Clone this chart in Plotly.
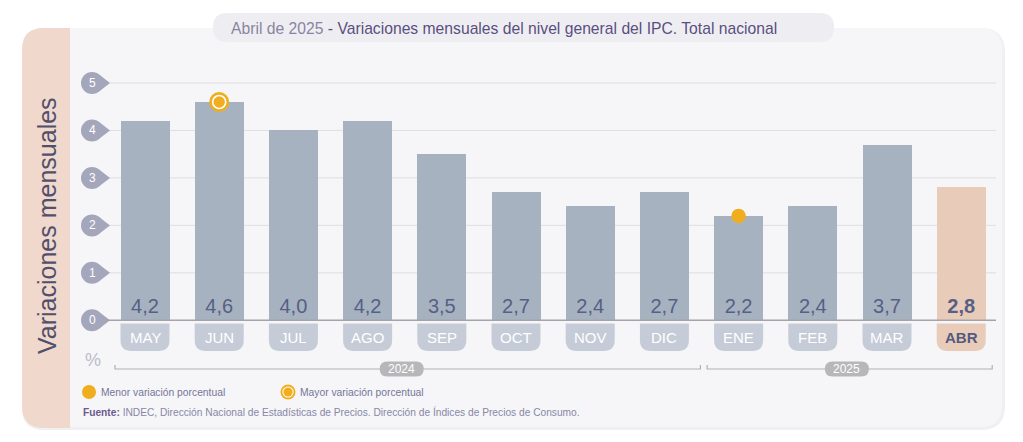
import plotly.graph_objects as go

# ---------------- data ----------------
months = ["MAY", "JUN", "JUL", "AGO", "SEP", "OCT", "NOV", "DIC", "ENE", "FEB", "MAR", "ABR"]
values = [4.2, 4.6, 4.0, 4.2, 3.5, 2.7, 2.4, 2.7, 2.2, 2.4, 3.7, 2.8]
years = ["2024", "2025"]
year_months = [8, 4]  # number of months in each year group
y_ticks = [0, 1, 2, 3, 4, 5]
max_month = "JUN"
min_month = "ENE"
current_month = "ABR"

title_a = "Abril de 2025"
title_b = " - Variaciones mensuales del nivel general del IPC. Total nacional"
y_title = "Variaciones mensuales"
legend_min = "Menor variación porcentual"
legend_max = "Mayor variación porcentual"
source_bold = "Fuente:"
source_text = " INDEC, Dirección Nacional de Estadísticas de Precios. Dirección de Índices de Precios de Consumo."

# ---------------- geometry (pixels) ----------------
W, H = 1023, 442
X0, DX = 145.0, 74.2        # pixel centre of first category, spacing
Y0, DY = 320.3, 47.46       # pixel of value 0, pixels per unit
FONT = "Liberation Sans"

BAR = "#a7b2c1"
BAR_CUR = "#e9cbb9"
PILL = "#c5cbd7"
ORANGE = "#f0ae1f"
TXT = "#566085"


def px(x):
    return x / W


def py(y):
    return 1 - y / H


def rrect(x0, y0, x1, y1, r_tl=0, r_tr=0, r_br=0, r_bl=0):
    """rounded rect path in paper coords from pixel coords"""
    p = []
    p.append(f"M{px(x0 + r_tl)},{py(y0)}")
    p.append(f"L{px(x1 - r_tr)},{py(y0)}")
    if r_tr:
        p.append(f"Q{px(x1)},{py(y0)} {px(x1)},{py(y0 + r_tr)}")
    p.append(f"L{px(x1)},{py(y1 - r_br)}")
    if r_br:
        p.append(f"Q{px(x1)},{py(y1)} {px(x1 - r_br)},{py(y1)}")
    p.append(f"L{px(x0 + r_bl)},{py(y1)}")
    if r_bl:
        p.append(f"Q{px(x0)},{py(y1)} {px(x0)},{py(y1 - r_bl)}")
    p.append(f"L{px(x0)},{py(y0 + r_tl)}")
    if r_tl:
        p.append(f"Q{px(x0)},{py(y0)} {px(x0 + r_tl)},{py(y0)}")
    p.append("Z")
    return " ".join(p)


def circle(cx, cy, r, color, layer="below"):
    return dict(type="circle", xref="paper", yref="paper",
                x0=px(cx - r), x1=px(cx + r), y0=py(cy + r), y1=py(cy - r),
                fillcolor=color, line=dict(width=0), layer=layer)


shapes = []
annotations = []

# outer panel shadow + panel
shapes.append(dict(type="path", xref="paper", yref="paper",
                   path=rrect(22, 28, 1005, 430, 22, 24, 24, 22),
                   fillcolor="#f0f0f3", line=dict(width=0), layer="below"))
shapes.append(dict(type="path", xref="paper", yref="paper",
                   path=rrect(70, 28, 1002, 427, 0, 22, 22, 0),
                   fillcolor="#f6f6f8", line=dict(width=0), layer="below"))
shapes.append(dict(type="path", xref="paper", yref="paper",
                   path=rrect(22, 28, 70, 428, 22, 0, 0, 22),
                   fillcolor="#f0d8cd", line=dict(width=0), layer="below"))

# title pill
shapes.append(dict(type="path", xref="paper", yref="paper",
                   path=rrect(213, 13, 834, 42, 14, 14, 14, 14),
                   fillcolor="#eeeef2", line=dict(width=0), layer="below"))
annotations.append(dict(xref="paper", yref="paper", x=px(229), y=py(28),
                        xanchor="left", yanchor="middle", showarrow=False,
                        text=f"<span style='color:#8b84a0'>{title_a}</span>"
                             f"<span style='color:#5b4f7f'>{title_b}</span>",
                        font=dict(family=FONT, size=15.7)))

# vertical axis title
annotations.append(dict(xref="paper", yref="paper", x=px(47), y=py(226),
                        xanchor="center", yanchor="middle", showarrow=False,
                        textangle=-90, text=y_title,
                        font=dict(family=FONT, size=25, color="#50506c")))

# gridlines and tick teardrops
for t in y_ticks:
    yy = Y0 - DY * t
    shapes.append(dict(type="line", xref="paper", yref="paper",
                       x0=px(106), x1=px(996), y0=py(yy), y1=py(yy),
                       line=dict(color="#a3a3a9" if t == 0 else "#dedee3",
                                 width=1.6 if t == 0 else 1),
                       layer="below" if t != 0 else "above"))
    cx, r = 92, 11
    shapes.append(circle(cx, yy, r, "#a4a6bb"))
    shapes.append(dict(type="path", xref="paper", yref="paper",
                       path=f"M{px(cx + 6.5)},{py(yy - 8.9)} L{px(cx + 18)},{py(yy)} "
                            f"L{px(cx + 6.5)},{py(yy + 8.9)} Z",
                       fillcolor="#a4a6bb", line=dict(width=0), layer="below"))
    annotations.append(dict(xref="paper", yref="paper", x=px(cx), y=py(yy),
                            xanchor="center", yanchor="middle", showarrow=False,
                            text=str(t), font=dict(family=FONT, size=12, color="white")))

# "%"
annotations.append(dict(xref="paper", yref="paper", x=px(93), y=py(360),
                        xanchor="center", yanchor="middle", showarrow=False,
                        text="%", font=dict(family=FONT, size=18, color="#bcbccd")))

# month pills
bw = 49
for i, m in enumerate(months):
    cx = X0 + DX * i
    cur = m == current_month
    shapes.append(dict(type="path", xref="paper", yref="paper",
                       path=rrect(cx - bw / 2, 323.5, cx + bw / 2, 351, 0, 0, 11, 11),
                       fillcolor=BAR_CUR if cur else PILL, line=dict(width=0), layer="below"))
    annotations.append(dict(xref="x", yref="paper", x=m, y=py(337.5),
                            xanchor="center", yanchor="middle", showarrow=False,
                            text=f"<b>{m}</b>" if cur else m,
                            font=dict(family=FONT, size=15,
                                      color="#525a80" if cur else "white")))

# year brackets
start = 0
for k, (yr, n) in enumerate(zip(years, year_months)):
    first_c = X0 + DX * start
    last_c = X0 + DX * (start + n - 1)
    xa = first_c - 30 if k == 0 else first_c - 31.5
    xb = last_c + 36 if k < len(years) - 1 else last_c + 31
    yb = 369
    shapes.append(dict(type="path", xref="paper", yref="paper",
                       path=f"M{px(xa)},{py(yb - 4)} L{px(xa)},{py(yb)} L{px(xb)},{py(yb)} L{px(xb)},{py(yb - 4)}",
                       line=dict(color="#b0b0b4", width=1.2), layer="below"))
    mid = X0 + DX * (start + (n - 1) / 2) - 3
    shapes.append(dict(type="path", xref="paper", yref="paper",
                       path=rrect(mid - 22, 361.5, mid + 22, 376.5, 7.5, 7.5, 7.5, 7.5),
                       fillcolor="#b7b7b9", line=dict(width=0), layer="below"))
    annotations.append(dict(xref="paper", yref="paper", x=px(mid), y=py(369),
                            xanchor="center", yanchor="middle", showarrow=False,
                            text=yr, font=dict(family=FONT, size=12, color="white")))
    start += n

# legend
shapes.append(circle(89, 392, 7, ORANGE, "above"))
annotations.append(dict(xref="paper", yref="paper", x=px(99), y=py(392.5),
                        xanchor="left", yanchor="middle", showarrow=False,
                        text=legend_min, font=dict(family=FONT, size=10.3, color="#75759a")))
shapes.append(circle(288, 392, 7.5, ORANGE, "above"))
shapes.append(circle(288, 392, 5.6, "white", "above"))
shapes.append(circle(288, 392, 4.6, ORANGE, "above"))
annotations.append(dict(xref="paper", yref="paper", x=px(298), y=py(392.5),
                        xanchor="left", yanchor="middle", showarrow=False,
                        text=legend_max, font=dict(family=FONT, size=10.3, color="#75759a")))

# source
annotations.append(dict(xref="paper", yref="paper", x=px(81), y=py(412),
                        xanchor="left", yanchor="middle", showarrow=False,
                        text=f"<b><span style='color:#6b5a8e'>{source_bold}</span></b>"
                             f"<span style='color:#8787a6'>{source_text}</span>",
                        font=dict(family=FONT, size=10.2)))

# ---------------- traces ----------------
colors = [BAR_CUR if m == current_month else BAR for m in months]
labels = [(f"<b>{v:.1f}</b>" if m == current_month else f"{v:.1f}").replace(".", ",")
          for m, v in zip(months, values)]

fig = go.Figure()
fig.add_trace(go.Bar(x=months, y=values, width=bw / DX, marker=dict(color=colors, line=dict(width=0)),
                     text=labels, textposition="inside", insidetextanchor="start",
                     textangle=0, constraintext="none",
                     textfont=dict(family=FONT, size=20, color=TXT),
                     hoverinfo="skip"))

i_max = months.index(max_month)
i_min = months.index(min_month)
fig.add_trace(go.Scatter(x=[max_month], y=[values[i_max]], mode="markers",
                         marker=dict(size=20, color=ORANGE), hoverinfo="skip"))
fig.add_trace(go.Scatter(x=[max_month], y=[values[i_max]], mode="markers",
                         marker=dict(size=13, color=ORANGE, line=dict(color="white", width=1.6)),
                         hoverinfo="skip"))
fig.add_trace(go.Scatter(x=[min_month], y=[values[i_min]], mode="markers",
                         marker=dict(size=14.5, color=ORANGE), hoverinfo="skip"))

x_lo = -X0 / DX
x_hi = (W - X0) / DX
y_lo = -(H - Y0) / DY
y_hi = Y0 / DY

fig.update_layout(
    width=W, height=H, margin=dict(l=0, r=0, t=0, b=0),
    paper_bgcolor="white", plot_bgcolor="rgba(0,0,0,0)",
    showlegend=False, bargap=0,
    xaxis=dict(type="category", range=[x_lo, x_hi], visible=False, fixedrange=True),
    yaxis=dict(range=[y_lo, y_hi], visible=False, fixedrange=True),
    shapes=shapes, annotations=annotations,
    font=dict(family=FONT),
)

fig.write_html("out.html", config={"displayModeBar": False, "staticPlot": True},
               post_script="document.body.style.margin='0';")
